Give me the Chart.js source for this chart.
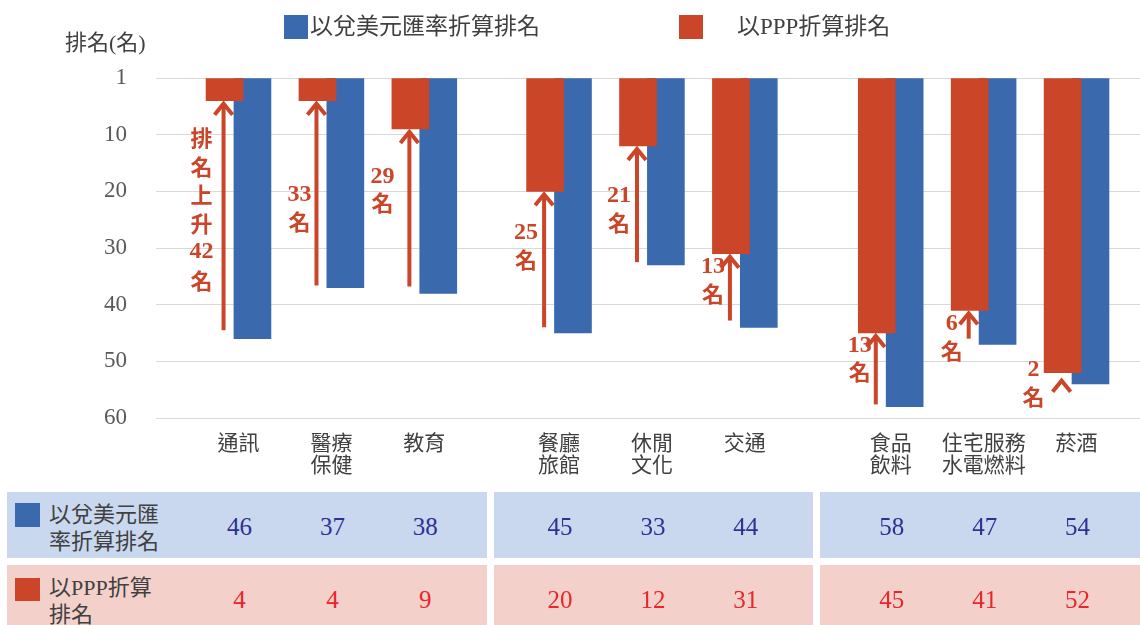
<!DOCTYPE html>
<html><head><meta charset="utf-8">
<script src="https://cdn.jsdelivr.net/npm/chart.js@4/dist/chart.umd.min.js"></script>
<style>
html,body{margin:0;padding:0;background:#fff;}
#wrap{position:relative;width:1140px;height:625px;overflow:hidden;font-family:"Liberation Serif","Noto Sans CJK TC",serif;color:#404040;}
canvas{position:absolute;left:0;top:0;}
.abs{position:absolute;white-space:nowrap;}
.panel{position:absolute;}
.num{position:absolute;transform:translate(-50%,-50%);font-family:"Liberation Serif",serif;font-size:25px;}
.lbl{position:absolute;font-size:22px;line-height:27px;color:#404040;}
.sq{position:absolute;}
</style></head><body>
<div id="wrap"><canvas id="c" width="1140" height="625"></canvas></div>
<script>
// ---- data ----
const categories = [['通訊'],['醫療','保健'],['教育'],['餐廳','旅館'],['休閒','文化'],['交通'],['食品','飲料'],['住宅服務','水電燃料'],['菸酒']];
const groupSizes = [3,3,3];
const exchangeRank = [46,37,38,45,33,44,58,47,54];
const pppRank = [4,4,9,20,12,31,45,41,52];
const yTickValues = [0,10,20,30,40,50,60];
const yTickLabels = ['1','10','20','30','40','50','60'];
const seriesNames = ['以兌美元匯率折算排名','以PPP折算排名'];
const tableRowNames = [['以兌美元匯','率折算排名'],['以PPP折算','排名']];
const yTitle = '排名(名)';

// ---- style / layout ----
const RED = '#CB4528', BLUE = '#3A69AE';
const groupGapExtra = [0.45, 0.57];
const positions = [];
(function(){ let i=0, extra=0; groupSizes.forEach((n,g)=>{ for(let k=0;k<n;k++){ positions.push(i+extra); i++; } if(g<groupGapExtra.length) extra+=groupGapExtra[g]; }); })();

// annotation layout: dx (px from arrow), first-line rank value, line spacing px, tail rank value
const noteLayout = [
  {dx:-22, y:10.6, lh:28.5, tail:44.5, prefix:true},
  {dx:-17, y:20.6, lh:26.5, tail:36.6},
  {dx:-27, y:17.4, lh:26.5, tail:36.8},
  {dx:-18, y:27.3, lh:26.5, tail:44.0},
  {dx:-18, y:20.8, lh:26.5, tail:32.5},
  {dx:-17, y:33.4, lh:26.5, tail:42.8},
  {dx:-16, y:47.2, lh:26.5, tail:57.6},
  {dx:-17, y:43.4, lh:26.5, tail:46.0},
  {dx:-28, y:51.5, lh:26.5, headOnly:true, tipGap:5}
];

const notesPlugin = {
  id:'notes',
  afterDatasetsDraw(chart){
    const ctx = chart.ctx, ys = chart.scales.y;
    const meta = chart.getDatasetMeta(0);
    ctx.save();
    ctx.strokeStyle = RED; ctx.fillStyle = RED; ctx.lineWidth = 4;
    noteLayout.forEach((n,i)=>{
      const bar = meta.data[i];
      const x = bar.x - 1;
      const tipY = ys.getPixelForValue(pppRank[i]) + (n.tipGap||0);
      if(!n.headOnly){
        ctx.beginPath(); ctx.moveTo(x, ys.getPixelForValue(n.tail)); ctx.lineTo(x, tipY+3); ctx.stroke();
      }
      ctx.beginPath(); ctx.moveTo(x-9, tipY+14); ctx.lineTo(x, tipY+3); ctx.lineTo(x+9, tipY+14); ctx.stroke();
      const diff = exchangeRank[i]-pppRank[i];
      const lines = n.prefix ? ['排','名','上','升',String(diff),'名'] : [String(diff),'名'];
      ctx.textAlign='center'; ctx.textBaseline='middle';
      const y0 = ys.getPixelForValue(n.y);
      lines.forEach((t,k)=>{
        ctx.font = /\d/.test(t) ? 'bold 24px "Liberation Serif"' : 'bold 22px "Noto Sans CJK TC"';
        ctx.fillText(t, x+n.dx, y0+k*n.lh);
      });
    });
    ctx.restore();
  }
};

const chart = new Chart(document.getElementById('c'), {
  type:'bar',
  data:{ datasets:[
    {label:seriesNames[1], data:pppRank.map((v,i)=>({x:positions[i]-0.15, y:v})), backgroundColor:RED, barThickness:37, grouped:false},
    {label:seriesNames[0], data:exchangeRank.map((v,i)=>({x:positions[i]+0.15, y:v})), backgroundColor:BLUE, barThickness:37, grouped:false}
  ]},
  options:{
    responsive:false, animation:false,
    layout:{padding:{top:78,left:0,right:0,bottom:147}},
    plugins:{legend:{display:false}, tooltip:{enabled:false}},
    scales:{
      x:{type:'linear', min:-0.888, max:9.703, offset:false, bounds:'data',
        afterBuildTicks:s=>{s.ticks = positions.map(v=>({value:v}));},
        ticks:{autoSkip:false, maxRotation:0, minRotation:0, callback:(v,i)=>categories[i],
          font:{family:'"Noto Sans CJK TC"', size:21, lineHeight:1.05}, color:'#404040', padding:13},
        grid:{display:false, drawTicks:false, offset:false}, border:{display:false},
        afterFit:s=>{s.height=60;}
      },
      y:{type:'linear', reverse:true, min:0, max:60,
        afterBuildTicks:s=>{s.ticks = yTickValues.map(v=>({value:v}));},
        ticks:{callback:(v,i)=>yTickLabels[i], font:{family:'"Liberation Serif"', size:23}, color:'#595959', padding:29},
        grid:{color:'#d9d9d9', lineWidth:1, drawTicks:false}, border:{display:false},
        afterFit:s=>{s.width=156;}
      }
    }
  },
  plugins:[notesPlugin]
});

// ---- HTML legend, title, table ----
const wrap = document.getElementById('wrap');
function add(cls, css, html){ const d=document.createElement('div'); d.className=cls; Object.assign(d.style, css); if(html!==undefined) d.innerHTML=html; wrap.appendChild(d); return d; }
add('abs',{left:'65px',top:'30px',fontSize:'22px',lineHeight:'26px',color:'#404040'}, yTitle);
add('sq',{left:'284px',top:'15px',width:'24px',height:'24px',background:BLUE});
add('abs',{left:'310px',top:'12px',fontSize:'23px',lineHeight:'30px',color:'#404040'}, seriesNames[0]);
add('sq',{left:'679px',top:'15px',width:'24px',height:'24px',background:RED});
add('abs',{left:'737px',top:'12px',fontSize:'23px',lineHeight:'30px',color:'#404040'}, seriesNames[1]);

const xs = chart.scales.x;
const centers = positions.map(p=>xs.getPixelForValue(p)+1);
let idx=0; const mids=[];
groupSizes.forEach((n,g)=>{ idx+=n; if(g<groupSizes.length-1){ mids.push((centers[idx-1]+centers[idx])/2 - 2); } });
const rows = [{top:492,h:66,bg:'#C9D8EE',col:'#2E3192',vals:exchangeRank,sq:BLUE,sqTop:503,sqH:24},
              {top:565,h:66,bg:'#F4D0CB',col:'#E8262B',vals:pppRank,sq:RED,sqTop:578,sqH:23}];
rows.forEach((r,ri)=>{
  const edges = [6.5];
  mids.forEach(m=>{edges.push(m-3.5); edges.push(m+3.5);});
  edges.push(1141);
  for(let k=0;k<edges.length;k+=2){
    add('panel',{left:edges[k]+'px',top:r.top+'px',width:(edges[k+1]-edges[k])+'px',height:r.h+'px',background:r.bg});
  }
  add('sq',{left:'14.5px',top:r.sqTop+'px',width:'25.5px',height:r.sqH+'px',background:r.sq});
  add('lbl',{left:'49px',top:(r.top+9)+'px'}, tableRowNames[ri].join('<br>'));
  r.vals.forEach((v,i)=>{
    add('num',{left:centers[i]+'px',top:(r.top+35)+'px',color:r.col}, String(v));
  });
});
</script>
</body></html>
